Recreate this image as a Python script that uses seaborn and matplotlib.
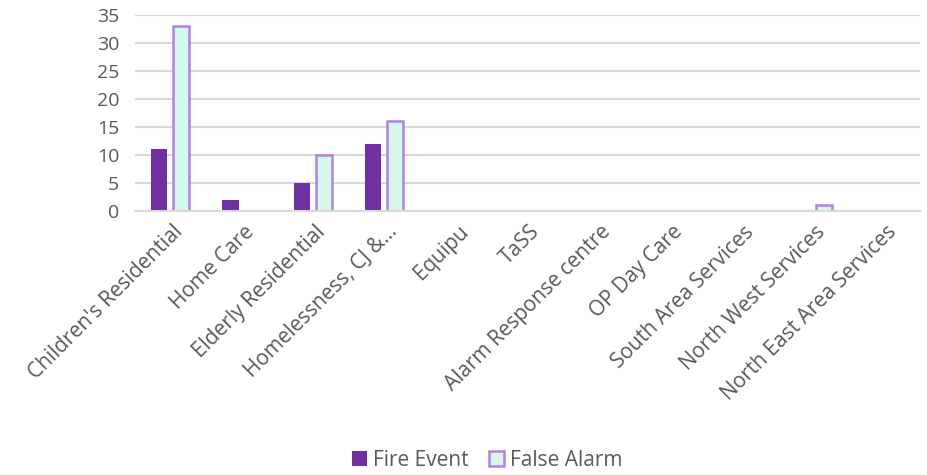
import pandas as pd
import matplotlib.pyplot as plt
import matplotlib.transforms as mtransforms
import seaborn as sns
from matplotlib.patches import Patch

# Data
categories = ["Children's Residential", "Home Care", "Elderly Residential",
              "Homelessness, CJ &...", "Equipu", "TaSS", "Alarm Response centre",
              "OP Day Care", "South Area Services", "North West Services",
              "North East Area Services"]
fire_event = [11, 2, 5, 12, 0, 0, 0, 0, 0, 0, 0]
false_alarm = [33, 0, 10, 16, 0, 0, 0, 0, 0, 1, 0]
series_names = ["Fire Event", "False Alarm"]

fire_color = "#7030A0"
false_fill = "#D6F7EC"
false_edge = "#B580E2"
text_color = "#595959"
grid_color = "#D9D9D9"

df = pd.DataFrame({
    "category": categories * 2,
    "value": fire_event + false_alarm,
    "series": [series_names[0]] * len(categories) + [series_names[1]] * len(categories),
})

sns.set_theme(style="white")
plt.rcParams['font.family'] = ['Open Sans', 'DejaVu Sans']

fig = plt.figure(figsize=(9.28, 4.75), dpi=100)
ax = fig.add_axes([0.145, 0.556, 0.846, 0.412])

sns.barplot(data=df, x="category", y="value", hue="series", order=categories,
            hue_order=series_names, palette=[fire_color, false_fill],
            width=0.62, gap=0.27, saturation=1, legend=False, ax=ax)

# style each series like the original
for patch in ax.containers[0]:
    patch.set_edgecolor("none")
for patch in ax.containers[1]:
    patch.set_edgecolor(false_edge)
    patch.set_linewidth(1.8)
for cont in ax.containers:
    for patch in cont:
        if patch.get_height() == 0:
            patch.set_visible(False)

ax.set_ylim(0, 35)
ax.set_yticks(range(0, 36, 5))
ax.set_xlim(-0.5, len(categories) - 0.5)
ax.yaxis.grid(True, color=grid_color, linewidth=1.5)
ax.set_axisbelow(True)
for s in ["top", "right", "left"]:
    ax.spines[s].set_visible(False)
ax.spines["bottom"].set_color(grid_color)
ax.spines["bottom"].set_linewidth(1.5)
ax.tick_params(axis="x", length=0, colors=text_color, labelsize=15, pad=4)
ax.tick_params(axis="y", length=0, colors=text_color, labelsize=14, pad=11)
ax.set_xlabel("")
ax.set_ylabel("")
plt.setp(ax.get_xticklabels(), rotation=45, ha="right", rotation_mode="anchor")
offset = mtransforms.ScaledTranslation(2 / 100, -5 / 100, fig.dpi_scale_trans)
for lbl in ax.get_xticklabels():
    lbl.set_transform(lbl.get_transform() + offset)

handles = [Patch(facecolor=fire_color, edgecolor="none"),
           Patch(facecolor=false_fill, edgecolor=false_edge, linewidth=1.8)]
leg = fig.legend(handles, series_names, loc="center", bbox_to_anchor=(0.525, 0.031),
                 ncol=2, frameon=False, fontsize=15, handlelength=0.7,
                 handleheight=0.7, handletextpad=0.3, columnspacing=1.0)
for t in leg.get_texts():
    t.set_color(text_color)

plt.savefig("out.png", dpi=100)
plt.close()
